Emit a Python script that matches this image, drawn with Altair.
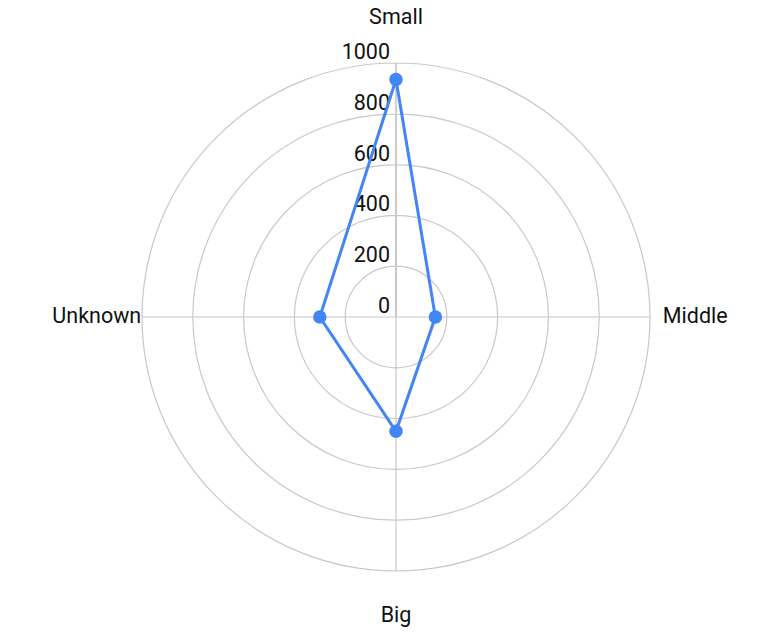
import altair as alt
import pandas as pd

# Radar chart: one series over four size categories
categories = ["Small", "Middle", "Big", "Unknown"]
values = [935, 155, 450, 300]
angles_deg = [0, 90, 180, 270]
ring_levels = [200, 400, 600, 800, 1000]
tick_values = [0, 200, 400, 600, 800, 1000]

R_MAX = 1000        # outer ring value
R_LABEL = 1178      # where the category names sit
PLOT = 508          # square plot area, px
BLUE = "#4285F4"
GRID = "#c8c8c8"
TEXT = "#111111"
FONT = "Roboto"
FS = 21.5

series = pd.DataFrame({
    "category": categories,
    "value": values,
    "angle": angles_deg,
    "order": list(range(len(categories))),
})
# repeat the first vertex so the polygon closes
closed = pd.concat([series, series.iloc[[0]].assign(order=len(categories))],
                   ignore_index=True)
spokes = pd.DataFrame({"angle": angles_deg})
rings = pd.DataFrame({"level": ring_levels})
ticks = pd.DataFrame({"tick": tick_values, "label": [str(t) for t in tick_values]})
names = pd.DataFrame({"category": categories, "angle": angles_deg})

xs = alt.Scale(domain=[-R_MAX, R_MAX], nice=False, zero=False)
ys = alt.Scale(domain=[-R_MAX, R_MAX], nice=False, zero=False)


def px(r):
    return f"({r}) * sin(datum.angle * PI / 180)"


def py(r):
    return f"({r}) * cos(datum.angle * PI / 180)"


ring_layer = alt.Chart(rings).mark_arc(
    filled=False, stroke=GRID, strokeWidth=1.2
).encode(
    theta=alt.value(0),
    theta2=alt.value(6.283185307),
    radius=alt.Radius("level:Q", stack=None,
                      scale=alt.Scale(type="linear", domain=[0, R_MAX],
                                      range=[0, PLOT / 2])),
)

spoke_layer = alt.Chart(spokes).transform_calculate(
    x0="0", y0="0", x1=px(R_MAX), y1=py(R_MAX)
).mark_rule(color=GRID, strokeWidth=1.2).encode(
    x=alt.X("x0:Q", scale=xs, axis=None),
    y=alt.Y("y0:Q", scale=ys, axis=None),
    x2="x1:Q",
    y2="y1:Q",
)

tick_layer = alt.Chart(ticks).transform_calculate(x0="0").mark_text(
    align="right", baseline="alphabetic", dx=-6, dy=-4,
    font=FONT, fontSize=FS, color=TEXT,
).encode(
    x=alt.X("x0:Q", scale=xs, axis=None),
    y=alt.Y("tick:Q", scale=ys, axis=None),
    text="label:N",
)

name_layer = alt.Chart(names).transform_calculate(
    lx=px(R_LABEL), ly=py(R_LABEL)
).mark_text(
    align="center", baseline="middle", font=FONT, fontSize=FS, color=TEXT,
).encode(
    x=alt.X("lx:Q", scale=xs, axis=None),
    y=alt.Y("ly:Q", scale=ys, axis=None),
    text="category:N",
)

line_layer = alt.Chart(closed).transform_calculate(
    vx=px("datum.value"), vy=py("datum.value")
).mark_line(color=BLUE, strokeWidth=3).encode(
    x=alt.X("vx:Q", scale=xs, axis=None),
    y=alt.Y("vy:Q", scale=ys, axis=None),
    order="order:Q",
)

point_layer = alt.Chart(series).transform_calculate(
    vx=px("datum.value"), vy=py("datum.value")
).mark_circle(color=BLUE, size=180, opacity=1).encode(
    x=alt.X("vx:Q", scale=xs, axis=None),
    y=alt.Y("vy:Q", scale=ys, axis=None),
    tooltip=["category:N", "value:Q"],
)

chart = alt.layer(
    ring_layer, spoke_layer, tick_layer, name_layer, line_layer, point_layer
).properties(
    width=PLOT,
    height=PLOT,
    autosize=alt.AutoSizeParams(type="none"),
    padding={"left": 142, "top": 63, "right": 114, "bottom": 63},
    background="white",
).configure_view(stroke=None)

chart.save("out.html", embed_options={"renderer": "svg", "actions": False})
